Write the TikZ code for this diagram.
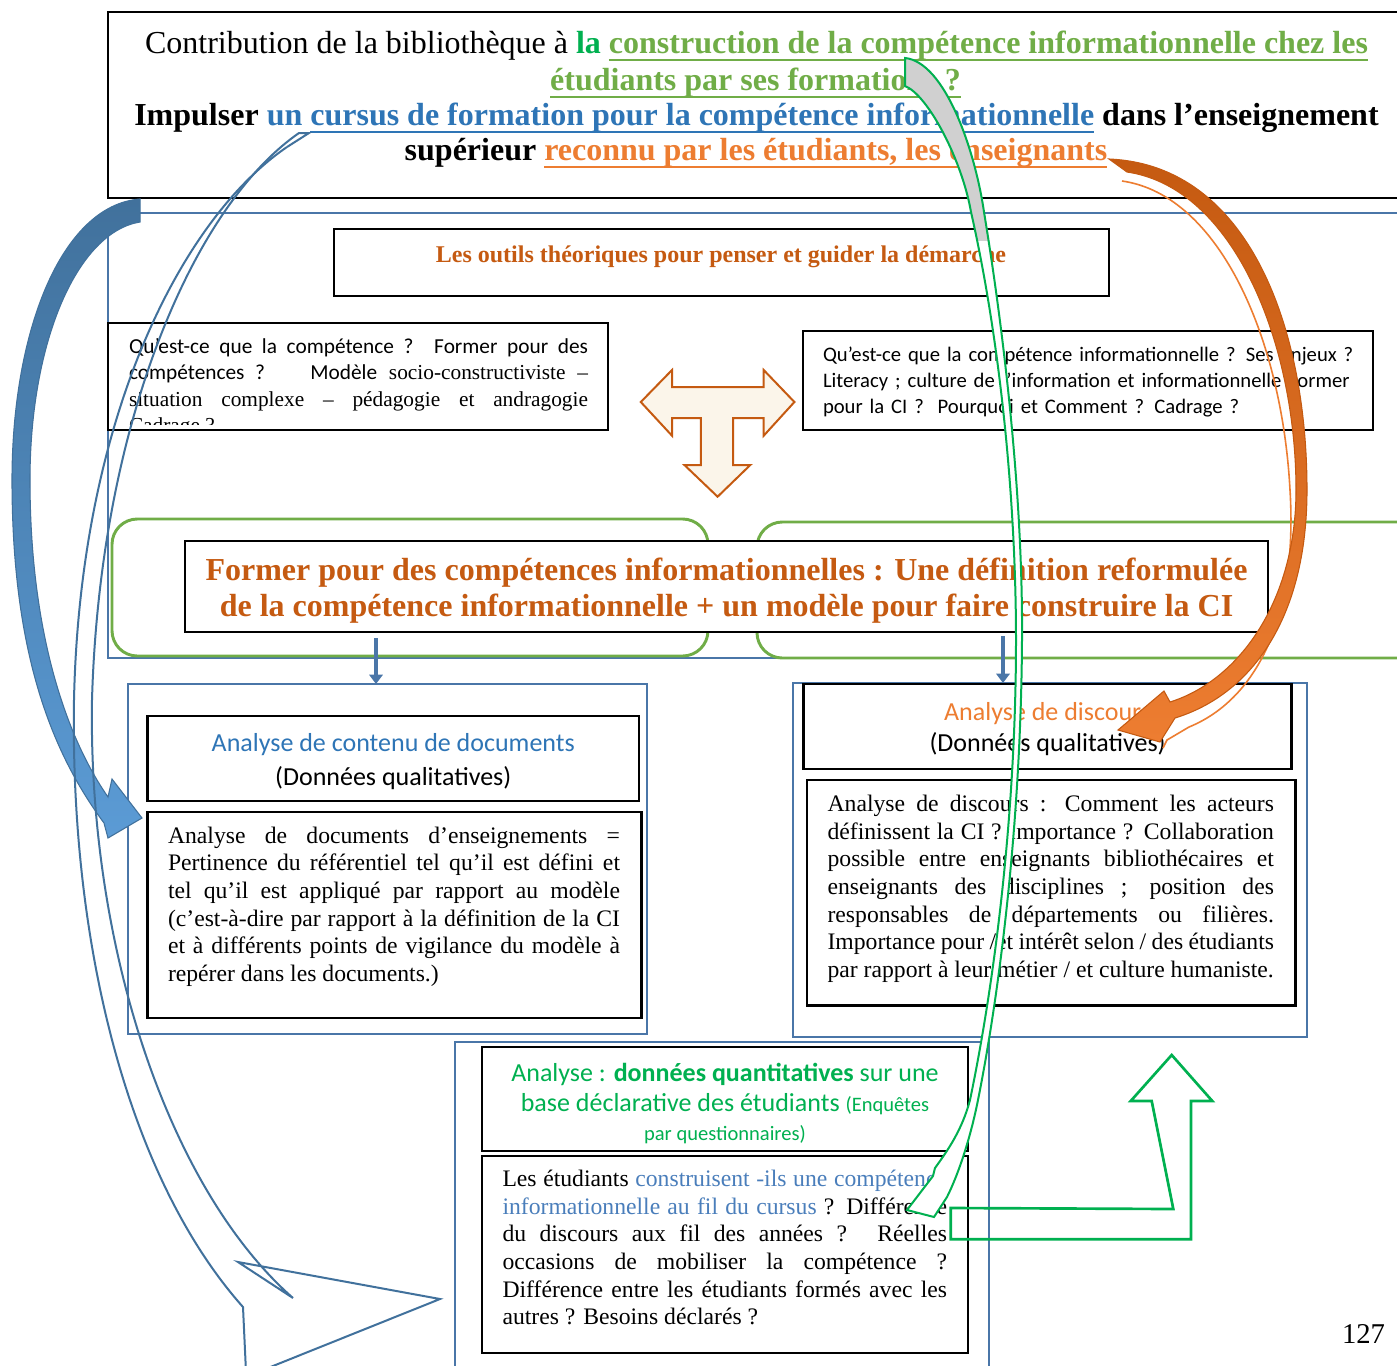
\documentclass[tikz,border=0pt]{standalone}
\usepackage{fontspec}
\setmainfont{Liberation Serif}
\newfontfamily\calib{Carlito}
\usetikzlibrary{arrows.meta,fit}
\definecolor{ltgreen}{HTML}{70AD47}
\definecolor{dkgreen}{HTML}{00B050}
\definecolor{ciblue}{HTML}{2E75B6}
\definecolor{txtblue}{HTML}{4A7EBB}
\definecolor{ciorange}{HTML}{ED7D31}
\definecolor{cibrown}{HTML}{C55A11}
\definecolor{frameblue}{HTML}{4A76A8}
\definecolor{arrowblue}{HTML}{5B9BD5}
\definecolor{arrowdark}{HTML}{41719C}
\definecolor{creamfill}{HTML}{FBF5EA}
\definecolor{greyfill}{HTML}{D0D0D0}
\newlength{\myulw}
\newcommand{\myul}[1]{\settowidth{\myulw}{#1}\rlap{\rule[-6pt]{\myulw}{1.8pt}}#1}
\newcommand{\mypars}{\hyphenpenalty=10000 \exhyphenpenalty=10000 \tolerance=9999 \emergencystretch=20pt\relax}
\newcommand{\greyarrowpath}{(905,58) .. controls (945,62) and (975,150) .. (984,212) .. controls (1005,340) and (1023,500) .. (1022,640) .. controls (1021,820) and (1000,990) .. (978,1100) .. controls (970,1140) and (958,1175) .. (947,1197) -- (934,1217) -- (907,1210) -- (933,1176) -- (935,1168) .. controls (948,1150) and (962,1130) .. (970,1100) .. controls (993,990) and (1016,820) .. (1016,640) .. controls (1016,500) and (1000,340) .. (971,212) .. controls (962,160) and (928,95) .. (905,86) -- cycle}
\begin{document}
\begin{tikzpicture}[x=0.75pt,y=-0.75pt,
  every node/.style={inner sep=0pt,outer sep=0pt},
  framebox/.style={draw=black,line width=1.6pt},
  thinbox/.style={draw=black,line width=1pt},
  heavybox/.style={draw=black,line width=1.9pt},
  bluefr/.style={draw=frameblue,line width=2.2pt},
  greenfr/.style={draw=ltgreen,line width=2.2pt,rounded corners=19pt},
  downarr/.style={draw=frameblue,line width=3pt,-{Triangle[length=7pt,width=10pt]}},
  bodytxt/.style={anchor=base west,align=justify,font=\fontsize{17.75}{20.7}\selectfont},
  calhead/.style={anchor=base,font=\calib\fontsize{19.5}{24}\selectfont},
  titletxt/.style={anchor=base,font=\fontsize{24}{28}\selectfont},
  shapeline/.style={line width=1.5pt,line join=miter}]
\useasboundingbox (0,0) rectangle (1397,1365);
\clip (0,0) rectangle (1397,1365);
\fill[white] (0,0) rectangle (1397,1365);

% top title box
\node[framebox, fit={(108,12) (1405,198)}] (topbox) {};
\node[titletxt] (t1) at (756.5,53.3) {Contribution de la bibliothèque à {\bfseries\color{dkgreen}la} {\bfseries\color{ltgreen}\myul{construction de la compétence informationnelle chez les}}};
\node[titletxt] (t2) at (755.5,90) {\bfseries\color{ltgreen}\myul{étudiants par ses formations ?}};
\node[titletxt] (t3) at (756.5,125) {\bfseries Impulser {\color{ciblue}un \myul{cursus de formation pour la compétence informationnelle}} dans l’enseignement};
\node[titletxt] (t4) at (756,160) {\bfseries supérieur {\color{ciorange}\myul{reconnu par les étudiants, les enseignants}}};

% theoretical tools frame
\node[bluefr, fit={(108,213) (1405,658)}] (bigframe) {};
\node[thinbox, fit={(334,229) (1109,296)}] (outils) {};
\node[anchor=base, font=\bfseries\fontsize{18}{22}\selectfont, text=cibrown] (outilstxt) at (721,262) {Les outils théoriques pour penser et guider la démarche};

\node[thinbox, fit={(108,323) (608,430)}] (leftq) {};
\begin{scope}
\clip (109,324) rectangle (607,424);
\node[anchor=base west, text width=344.25pt, align=justify, font=\fontsize{16}{19.9}\selectfont] (leftqtxt) at (129,353) {\mypars{\calib Qu’est-ce que la compétence~? Former pour des}\linebreak {\calib compétences~? \quad Modèle} socio-constructiviste –\linebreak situation complexe – pédagogie et andragogie\linebreak Cadrage~?};
\end{scope}

\node[thinbox, fit={(803,331) (1373,430)}] (rightq) {};
\node[anchor=base west, text width=420pt, align=left, font=\calib\fontsize{15.5}{19.5}\selectfont] (rightqtxt) at (823,361.7) {Qu’est-ce que la compétence informationnelle ? Ses enjeux ?\\Literacy ; culture de l’information et informationnelle Former\\pour la CI ?\ \ Pourquoi et Comment ? Cadrage ?};

% T arrow
\draw[shapeline, draw=cibrown, fill=creamfill] (640.8,402) -- (672,370) -- (672,387) -- (763.7,387) -- (763.7,370) -- (794.4,402) -- (763.7,435.7) -- (763.7,418) -- (733,418) -- (733,465) -- (750.3,465) -- (717.6,496.7) -- (684.4,465) -- (700.8,465) -- (700.8,418) -- (672,418) -- (672,435.7) -- cycle;

% green frames and definition box
\node[greenfr, fit={(112,519) (708,656)}] (gl) {};
\node[greenfr, fit={(757,522) (1440,658)}] (gr) {};
\node[framebox, fill=white, fit={(185,541) (1268,632)}] (former) {};
\node[anchor=base, font=\bfseries\fontsize{24}{28}\selectfont, text=cibrown] (f1) at (726.5,580) {Former pour des compétences informationnelles : Une définition reformulée};
\node[anchor=base, font=\bfseries\fontsize{24}{28}\selectfont, text=cibrown] (f2) at (726.5,616.7) {de la compétence informationnelle + un modèle pour faire construire la CI};

% left analysis
\node[bluefr, fit={(128,684) (647,1034)}] (leftframe) {};
\node[heavybox, fit={(147.5,716) (639,801)}] (lefthead) {};
\node[heavybox, fit={(147.5,812) (641.5,1018)}] (leftbody) {};
\node[calhead, text=ciblue] (lh1) at (393.25,751.7) {Analyse de contenu de documents};
\node[calhead] (lh2) at (393.25,785) {(Données qualitatives)};
\node[bodytxt, text width=339pt] (lbtxt) at (168,843.3) {\mypars Analyse de documents d’enseignements =\linebreak Pertinence du référentiel tel qu’il est défini et\linebreak tel qu’il est appliqué par rapport au modèle\linebreak (c’est-à-dire par rapport à la définition de la CI\linebreak et à différents points de vigilance du modèle à\linebreak repérer dans les documents.)};

% right analysis
\node[bluefr, fit={(793,683) (1307,1037)}] (rightframe) {};
\node[heavybox, fit={(803.6,684) (1291.6,769)}] (righthead) {};
\node[heavybox, fit={(806.8,780) (1295.5,1005.7)}] (rightbody) {};
\node[calhead, text=ciorange] (rh1) at (1047.6,720) {Analyse de discours};
\node[calhead] (rh2) at (1047.6,751.7) {(Données qualitatives)};
\node[bodytxt, text width=334.8pt] (rbtxt) at (827.6,811.7) {\mypars\parfillskip=0pt\relax Analyse de discours : Comment les acteurs\linebreak définissent la CI ? Importance ? Collaboration\linebreak possible entre enseignants bibliothécaires et\linebreak enseignants des disciplines ; position des\linebreak responsables de départements ou filières.\linebreak Importance pour /et intérêt selon / des étudiants\linebreak par rapport à leur métier / et culture humaniste.};

% connectors from the definition box
\coordinate (xl) at (376,0);
\coordinate (xr) at (1003,0);
\draw[downarr, shorten <=4.5pt] (former.south -| xl) -- (leftframe.north -| xl);
\draw[downarr, shorten <=3pt] (former.south -| xr) -- (rightframe.north -| xr);

% bottom analysis
\node[bluefr, fit={(455,1042) (989,1400)}] (botframe) {};
\node[heavybox, fit={(482,1047) (968,1151)}] (bothead) {};
\node[heavybox, fit={(482,1156) (968,1353)}] (botbody) {};
\begin{scope}
\clip (483,1048) rectangle (967,1146);
\node[calhead, text=dkgreen] (bh1) at (725,1081.7) {Analyse : \textbf{données quantitatives} sur une};
\node[calhead, text=dkgreen] (bh2) at (725,1111.7) {base déclarative des étudiants {\fontsize{15.4}{18}\selectfont(Enquêtes}};
\node[anchor=base, text=dkgreen, font=\calib\fontsize{15.4}{18}\selectfont] (bh3) at (725,1140) {par questionnaires)};
\end{scope}
\node[bodytxt, text width=333.4pt] (bbtxt) at (502.5,1186.7) {\mypars Les étudiants {\color{txtblue}construisent -ils une compétence}\linebreak {\color{txtblue}informationnelle au fil du cursus}~? Différence\linebreak du discours aux fil des années~? Réelles\linebreak occasions de mobiliser la compétence~?\linebreak Différence entre les étudiants formés avec les\linebreak autres~? Besoins déclarés~?};

% bent green arrow
\draw[dkgreen, line width=2pt, line join=miter] (950.7,1208) -- (1173.3,1209) -- (1151.7,1101) -- (1130.7,1101) -- (1171.7,1055) -- (1212.3,1101) -- (1191,1101) -- (1191,1239.3) -- (950.7,1239.3) -- cycle;

% page number
\node[anchor=base east, font=\fontsize{21.5}{24}\selectfont] (pg) at (1385,1343) {127};

% thick blue curved arrow
\draw[top color=arrowdark, bottom color=arrowblue, draw=arrowdark, line width=0.8pt, line join=miter]
 (140,199) .. controls (62,205) and (12,330) .. (12,480) .. controls (12,650) and (50,750) .. (104,823) -- (108,838) -- (142,818) -- (112,779) -- (108,797) .. controls (65,735) and (30,630) .. (30,480) .. controls (30,340) and (78,232) .. (140,222) -- cycle;

% thin blue curved arrow
\draw[arrowdark, line width=1.5pt, line join=miter]
 (287,147) .. controls (180,220) and (80,420) .. (74,700) .. controls (70,950) and (130,1180) .. (243,1307) -- (246,1372);
\draw[arrowdark, line width=1.5pt, line join=miter]
 (258,1372) -- (440,1299) -- (238,1262) -- (293,1298) .. controls (170,1190) and (88,950) .. (92,700) .. controls (100,420) and (195,205) .. (299,133) -- (309,133) -- (287,147);

% orange curved arrow
\draw[ciorange, line width=1.2pt] (1122,181) .. controls (1220,195) and (1282,340) .. (1290,490) .. controls (1298,620) and (1255,700) .. (1189,727) -- (1167,740) -- (1163,748);
\draw[top color=cibrown, bottom color=ciorange, draw=cibrown, line width=0.8pt, line join=miter]
 (1109,159) .. controls (1250,165) and (1307,330) .. (1307,490) .. controls (1307,620) and (1250,695) .. (1175,718) -- (1160,742) -- (1118,730) -- (1164,691) -- (1170,702) .. controls (1240,680) and (1296,600) .. (1296,490) .. controls (1296,345) and (1235,188) .. (1127,172) -- cycle;

% grey / green curved arrow
\fill[white] \greyarrowpath;
\begin{scope}
\clip (0,0) rectangle (1397,240);
\fill[greyfill] \greyarrowpath;
\end{scope}
\draw[dkgreen, line width=1.5pt, line join=miter] \greyarrowpath;
\end{tikzpicture}
\end{document}
